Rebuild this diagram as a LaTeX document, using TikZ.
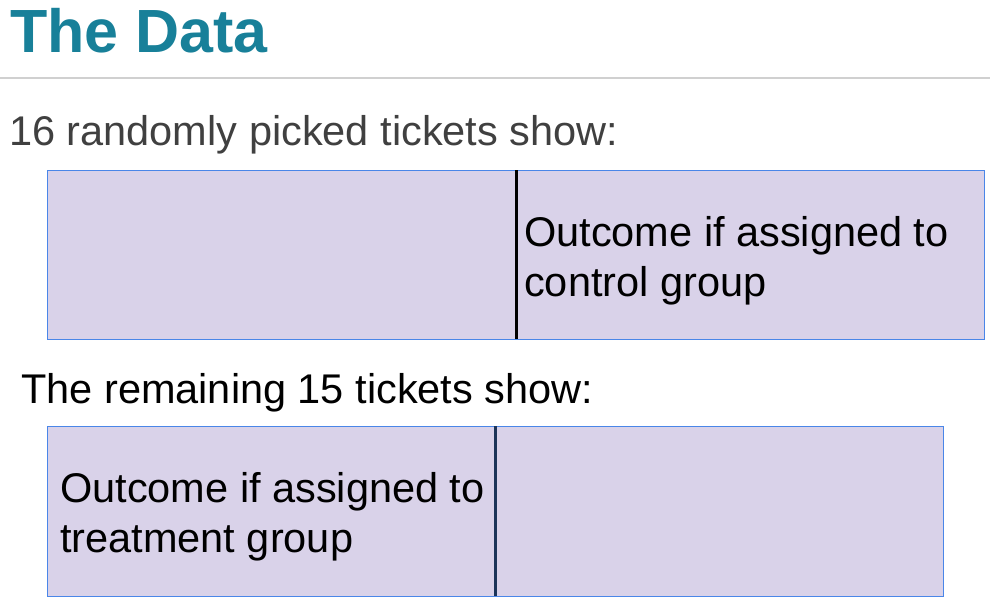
\documentclass[tikz,border=0pt]{standalone}
\usepackage{fontspec}
\setmainfont{Liberation Sans}
\definecolor{titleteal}{RGB}{24,128,153}
\definecolor{boxfill}{RGB}{217,210,233}
\definecolor{boxline}{RGB}{74,134,232}
\definecolor{navy}{RGB}{28,52,88}
\definecolor{darkgray}{RGB}{64,64,64}
\definecolor{rulegray}{RGB}{208,208,208}
\tikzset{
  ticketbox/.style={draw=boxline, line width=1pt, fill=boxfill, rectangle, anchor=north west, inner sep=0pt},
  bodytext/.style={anchor=base west, inner sep=0pt, font=\fontsize{41.5}{50}\selectfont},
}
\begin{document}
\begin{tikzpicture}[x=1pt,y=-1pt]
\useasboundingbox[fill=white] (0,0) rectangle (990,603);
% title
\node[anchor=base west, inner sep=0pt, text=titleteal, font=\fontsize{61}{70}\selectfont\bfseries] (title) at (10,52) {The Data};
\draw[rulegray, line width=1.2pt] (0,78) -- (990,78);
% first section
\node[bodytext, text=darkgray] (lab1) at (9,145) {16 randomly picked tickets show:};
\node[ticketbox, minimum width=937pt, minimum height=169pt] (b1) at (47,170) {};
\coordinate (d1t) at (516,170);
\coordinate (d1b) at (516,339);
\draw[black, line width=3pt] (d1t) -- (d1b);
\node[bodytext] (t1a) at (524,246) {Outcome if assigned to};
\node[bodytext] (t1b) at (524,296) {control group};
% second section
\node[bodytext] (lab2) at (21,403) {The remaining 15 tickets show:};
\node[ticketbox, minimum width=896pt, minimum height=170pt] (b2) at (47,426) {};
\coordinate (d2t) at (495,426);
\coordinate (d2b) at (495,596);
\draw[navy, line width=3pt] (d2t) -- (d2b);
\node[bodytext] (t2a) at (60,502) {Outcome if assigned to};
\node[bodytext] (t2b) at (60,552) {treatment group};
\end{tikzpicture}
\end{document}
